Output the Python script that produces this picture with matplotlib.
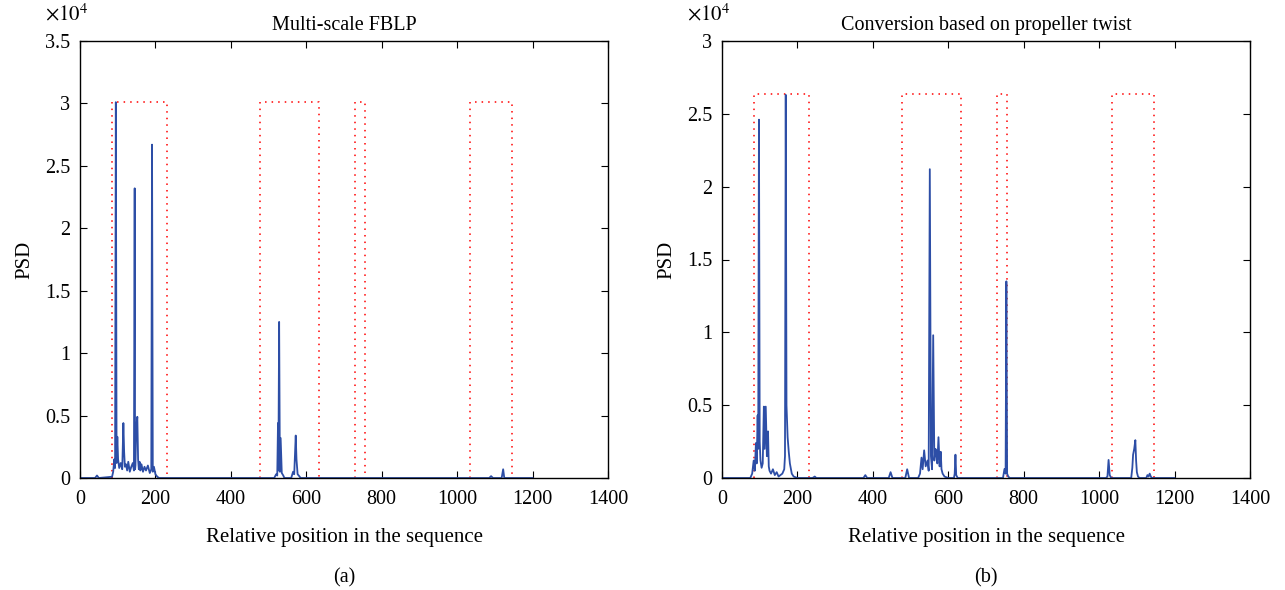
import numpy as np
import matplotlib
matplotlib.use('Agg')
import matplotlib.pyplot as plt
from matplotlib.ticker import MultipleLocator, FuncFormatter

plt.rcParams['font.family'] = ['Liberation Serif', 'DejaVu Serif']
plt.rcParams['mathtext.fontset'] = 'stix'

# panel (a): Multi-scale FBLP  (position, PSD)
pos_a = [1, 40, 45, 50, 85, 88, 91, 93, 95, 97, 99, 101, 104, 108, 112, 115, 117, 119,
         122, 125, 128, 132, 136, 140, 143, 145, 146, 147, 149, 152, 154, 156, 158, 160,
         163, 167, 171, 175, 180, 185, 189, 191, 193, 196, 200, 205, 210, 515, 520, 523,
         525, 526, 528, 530, 532, 535, 537, 539, 542, 560, 565, 568, 572, 574, 577, 580,
         585, 1085, 1090, 1095, 1118, 1122, 1125, 1200]
psd_a = [0, 0, 200, 0, 100, 500, 1500, 800, 30100, 1200, 3300, 1500, 800, 1200, 700, 4400,
         2100, 900, 1100, 600, 1300, 500, 900, 1200, 600, 23200, 700, 1000, 4000, 4900,
         1500, 700, 1300, 600, 1100, 500, 900, 600, 1000, 400, 700, 26700, 500, 900, 300,
         100, 0, 0, 300, 200, 4400, 600, 12500, 500, 3200, 400, 300, 200, 0, 0, 500, 300,
         3400, 1500, 300, 200, 0, 0, 150, 0, 0, 700, 0, 0]

# panel (b): Conversion based on propeller twist
pos_b = [1, 75, 80, 84, 87, 90, 92, 94.5, 96, 98, 100, 102, 105, 108, 111, 113, 116, 119,
         122, 124, 126, 130, 135, 140, 145, 150, 160, 165, 167, 169, 171, 174, 177, 180,
         185, 190, 200, 240, 246, 250, 375, 380, 385, 442, 447, 452, 486, 491, 496, 520,
         525, 529, 532, 536, 540, 545, 548, 551, 554, 557, 560, 563, 566, 568, 571, 574,
         577, 580, 582, 585, 590, 600, 615, 617, 619, 621, 625, 745, 749, 752, 754, 756,
         759, 763, 1018, 1022, 1025, 1028, 1032, 1085, 1088, 1090, 1093, 1096, 1098, 1100,
         1103, 1107, 1125, 1128, 1131, 1134, 1137, 1140, 1200]
psd_b = [0, 0, 300, 1200, 500, 2400, 1000, 4300, 2000, 24600, 2500, 1200, 700, 1000, 4900,
         2000, 4900, 1500, 3200, 800, 500, 300, 600, 200, 400, 100, 300, 600, 1500, 26300,
         5000, 2800, 1800, 1000, 300, 100, 0, 0, 100, 0, 0, 200, 0, 0, 400, 0, 0, 600, 0,
         0, 300, 1400, 600, 1900, 800, 1200, 500, 21200, 1500, 600, 9800, 1200, 2000, 1850,
         1000, 2800, 800, 1800, 600, 300, 100, 0, 0, 300, 1600, 200, 0, 0, 620, 300, 13500,
         300, 100, 0, 0, 100, 1240, 200, 0, 0, 700, 1600, 2000, 2600, 1200, 400, 100, 0, 0,
         200, 100, 300, 100, 0, 0]

# dotted regions
box_lo = [85, 478, 728, 1035]
box_hi = [230, 633, 757, 1145]
box_top = [30100, 26350]

titles = ['Multi-scale FBLP', 'Conversion based on propeller twist']
ymax = [3.5, 3.0]
tags = ['(a)', '(b)']
blue = '#2d4ea6'

fig = plt.figure(figsize=(12.85, 5.9), dpi=100)
lefts = [80 / 1285, 722 / 1285]
series = [(pos_a, psd_a), (pos_b, psd_b)]

for i in range(2):
    ax = fig.add_axes([lefts[i], 112 / 590, 528 / 1285, 437 / 590])
    x, y = series[i]
    y = np.array(y) / 1e4
    for lo, hi in zip(box_lo, box_hi):
        t = box_top[i] / 1e4
        ax.plot([lo, lo, hi, hi], [0, t, t, 0], ls=(0, (1, 3.3)), c='red', lw=1.1)
    ax.plot(x, y, c=blue, lw=1.3)
    ax.set_xlim(0, 1400)
    ax.set_ylim(0, ymax[i])
    ax.xaxis.set_major_locator(MultipleLocator(200))
    ax.yaxis.set_major_locator(MultipleLocator(0.5))
    ax.yaxis.set_major_formatter(FuncFormatter(lambda v, p: '%g' % v))
    ax.tick_params(direction='in', top=True, right=True, length=5, labelsize=14.5)
    ax.tick_params(axis='x', pad=9)
    ax.tick_params(axis='y', pad=7)
    for s in ax.spines.values():
        s.set_linewidth(1.0)
    ax.set_title(titles[i], fontsize=14.5, pad=8)
    ax.set_xlabel('Relative position in the sequence', fontsize=15, labelpad=13)
    ax.set_ylabel('PSD', fontsize=15, labelpad=8)
    ax.text(-0.066, 1.035, r'$\times10^{4}$', transform=ax.transAxes, fontsize=15,
            ha='left', va='bottom')
    fig.text(lefts[i] + 264 / 1285, 0.013, tags[i], ha='center', fontsize=14.5)

fig.savefig('out.png', dpi=100)
